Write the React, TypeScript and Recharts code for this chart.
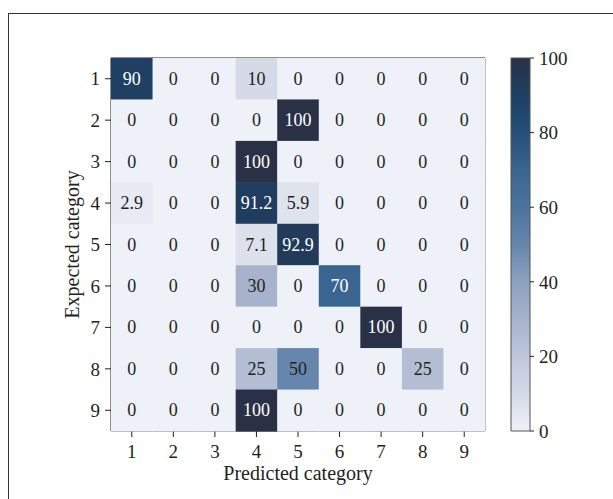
import React from "react";
import {
  Bar,
  BarChart,
  ReferenceArea,
  Scatter,
  ScatterChart,
  XAxis,
  YAxis,
} from "recharts";

const categories = [1, 2, 3, 4, 5, 6, 7, 8, 9];

// row = expected category, column = predicted category (percent)
const percentages = [
  [90, 0, 0, 10, 0, 0, 0, 0, 0],
  [0, 0, 0, 0, 100, 0, 0, 0, 0],
  [0, 0, 0, 100, 0, 0, 0, 0, 0],
  [2.9, 0, 0, 91.2, 5.9, 0, 0, 0, 0],
  [0, 0, 0, 7.1, 92.9, 0, 0, 0, 0],
  [0, 0, 0, 30, 0, 70, 0, 0, 0],
  [0, 0, 0, 0, 0, 0, 100, 0, 0],
  [0, 0, 0, 25, 50, 0, 0, 25, 0],
  [0, 0, 0, 100, 0, 0, 0, 0, 0],
];

const colorbarTicks = [0, 20, 40, 60, 80, 100];

const colorStops: [number, string][] = [
  [0, "#eef1f8"],
  [10, "#d5dae7"],
  [20, "#bfc7db"],
  [30, "#a7b3cc"],
  [40, "#8ca1bf"],
  [50, "#6686ad"],
  [60, "#4c739c"],
  [70, "#3a6590"],
  [80, "#264f79"],
  [90, "#1f3f63"],
  [100, "#2a3147"],
];

const FONT = "'Liberation Serif', 'Times New Roman', serif";
const INK = "#231f1c";

const W = 613;
const H = 499;
const PLOT_LEFT = 111;
const PLOT_RIGHT = 485;
const PLOT_TOP = 58;
const PLOT_BOTTOM = 431;
const CELL_W = (PLOT_RIGHT - PLOT_LEFT) / categories.length;
const CELL_H = (PLOT_BOTTOM - PLOT_TOP) / categories.length;

function hexToRgb(h: string) {
  const n = parseInt(h.slice(1), 16);
  return [(n >> 16) & 255, (n >> 8) & 255, n & 255];
}

function colorFor(v: number) {
  for (let i = 1; i < colorStops.length; i++) {
    const [v1, c1] = colorStops[i];
    const [v0, c0] = colorStops[i - 1];
    if (v <= v1) {
      const t = (v - v0) / (v1 - v0);
      const a = hexToRgb(c0);
      const b = hexToRgb(c1);
      const m = a.map((x, k) => Math.round(x + (b[k] - x) * t));
      return `rgb(${m[0]},${m[1]},${m[2]})`;
    }
  }
  return colorStops[colorStops.length - 1][1];
}

const cells = percentages.flatMap((row, r) =>
  row.map((v, c) => ({ x: categories[c], y: categories[r], v }))
);

function CellShape(props: any) {
  const { cx, cy, payload } = props;
  const v = payload.v as number;
  return (
    <g>
      <rect
        x={cx - CELL_W / 2}
        y={cy - CELL_H / 2}
        width={CELL_W + 0.5}
        height={CELL_H + 0.5}
        fill={colorFor(v)}
      />
      <text
        x={cx}
        y={cy}
        dy={6}
        textAnchor="middle"
        fontFamily={FONT}
        fontSize={18}
        fill={v > 60 ? "#ffffff" : INK}
      >
        {String(v)}
      </text>
    </g>
  );
}

const tickStyle = { fontFamily: FONT, fontSize: 19, fill: INK };
const labelStyle = { fontFamily: FONT, fontSize: 20, fill: INK };

export default function App() {
  const yAxisWidth = 40;
  const xAxisHeight = 30;
  return (
    <div style={{ position: "absolute", left: 0, top: 0, width: W, height: H, background: "#fff", overflow: "hidden" }}>
      <div
        style={{
          position: "absolute",
          left: 8,
          top: 13,
          width: 800,
          height: 800,
          borderTop: "1px solid #333",
          borderLeft: "1px solid #333",
        }}
      />
      <div style={{ position: "absolute", left: 0, top: 0 }}>
        <ScatterChart
          width={W}
          height={H}
          margin={{
            top: PLOT_TOP,
            right: W - PLOT_RIGHT,
            bottom: H - PLOT_BOTTOM - xAxisHeight,
            left: PLOT_LEFT - yAxisWidth,
          }}
        >
          <XAxis
            type="number"
            dataKey="x"
            domain={[0.5, 9.5]}
            ticks={categories}
            height={xAxisHeight}
            axisLine={false}
            tickLine={{ stroke: INK }}
            tickSize={6}
            tick={{ ...tickStyle, dy: 6 }}
            label={{ value: "Predicted category", position: "insideBottom", offset: -19, style: labelStyle }}
          />
          <YAxis
            type="number"
            dataKey="y"
            domain={[0.5, 9.5]}
            reversed
            ticks={categories}
            width={yAxisWidth}
            axisLine={false}
            tickLine={{ stroke: INK }}
            tickSize={6}
            tick={{ ...tickStyle, dx: -3 }}
            label={{ value: "Expected category", angle: -90, position: "insideLeft", offset: 1, style: { ...labelStyle, textAnchor: "middle" } }}
          />
          <Scatter data={cells} shape={CellShape} isAnimationActive={false} />
          <ReferenceArea x1={0.5} x2={9.5} y1={0.5} y2={9.5} fill="none" stroke={INK} strokeWidth={1} fillOpacity={0} />
        </ScatterChart>
      </div>
      <div style={{ position: "absolute", left: 505, top: 0 }}>
        <BarChart
          width={100}
          height={H}
          data={[{ name: "cb", v: 100 }]}
          barCategoryGap={0}
          margin={{ top: PLOT_TOP, bottom: H - PLOT_BOTTOM, left: 6, right: 25 }}
        >
          <defs>
            <linearGradient id="cbGrad" x1="0" y1="1" x2="0" y2="0">
              {colorStops.map(([v, c]) => (
                <stop key={v} offset={`${v}%`} stopColor={c} />
              ))}
            </linearGradient>
          </defs>
          <XAxis dataKey="name" hide />
          <YAxis
            orientation="right"
            domain={[0, 100]}
            ticks={colorbarTicks}
            width={50}
            axisLine={false}
            tickLine={{ stroke: INK }}
            tickSize={4}
            tick={{ ...tickStyle, textAnchor: "start", dx: 3 }}
          />
          <Bar dataKey="v" fill="url(#cbGrad)" stroke="#555" strokeWidth={1} isAnimationActive={false} />
        </BarChart>
      </div>
    </div>
  );
}
